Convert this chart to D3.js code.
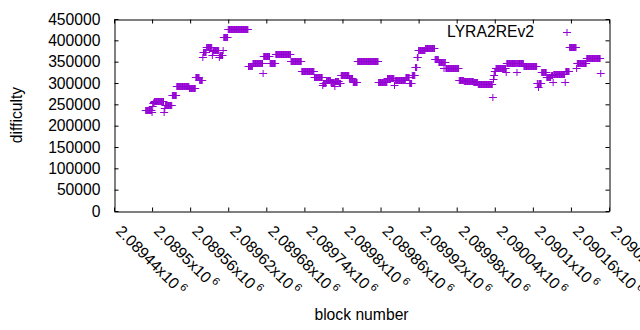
<!DOCTYPE html>
<html lang="en">
	<head>
		<meta charset="utf-8">
		<title>LYRA2REv2 difficulty</title>
		<script src="https://d3js.org/d3.v7.min.js"></script>
		<style type="text/css">
			body { margin: 0; background: #fff; }
			text { font-family: "Liberation Sans", Arial, sans-serif; font-size: 15.7px; fill: #000; }
		</style>
	</head>
	<body>
		<script type="text/javascript">
			// first block in the series, one value per block after it
			var startBlock = 2089490;

			// difficulty in thousands, one entry per block
			var difficultyK = [
				237,237,237,237,237,237,237,237,237,237,233,245,252,256,
				258,258,258,258,258,258,258,258,258,258,258,258,258,258,258,
				232,241,
				248,248,248,248,248,248,248,248,248,248,248,
				272,272,272,272,272,272,272,
				293,293,293,293,293,293,293,293,293,293,293,293,293,293,293,293,293,293,293,293,
				289,289,289,289,289,289,289,289,289,289,
				313,313,313,313,313,313,
				306,306,306,306,306,
				362,372,372,372,372,372,
				384,384,384,384,384,384,384,384,384,
				366,374,
				378,378,378,378,378,378,378,378,378,
				361,366,366,366,366,366,378,
				408,408,408,408,408,408,408,
				426,426,426,426,426,426,426,426,426,426,426,426,426,426,426,426,
				426,426,426,426,426,426,426,426,426,426,426,426,426,426,426,426,
				339,339,339,339,339,339,339,
				346,346,346,346,346,346,346,346,346,346,346,346,346,346,346,346,
				323,
				363,363,363,363,363,363,363,363,363,363,
				348,348,348,348,348,348,348,348,348,
				367,367,367,367,367,367,367,367,367,367,367,367,367,367,367,367,367,367,367,367,367,367,367,367,
				351,351,351,351,351,351,351,351,351,351,351,351,351,351,351,351,351,
				327,327,327,327,327,327,327,327,327,327,327,327,327,327,327,327,327,327,327,327,
				313,313,313,313,313,313,313,313,313,313,313,313,313,
				295,300,300,300,300,300,
				307,307,307,307,307,307,307,
				303,303,303,303,303,303,
				293,304,304,304,304,304,304,299,299,299,
				319,319,319,319,319,319,319,319,319,319,319,319,319,
				312,312,312,312,312,312,
				302,302,302,302,302,302,302,
				352,352,352,352,352,352,352,352,352,352,352,352,352,352,352,352,352,
				352,352,352,352,352,352,352,352,352,352,352,352,352,352,352,352,
				302,302,302,302,302,302,302,302,302,302,302,302,302,302,
				312,312,312,312,312,312,312,312,312,312,312,
				295,
				306,306,306,306,306,306,306,306,306,306,306,306,306,306,306,306,306,
				315,315,315,315,315,315,
				300,300,300,300,
				319,319,319,319,319,
				337,337,337,361,361,
				378,378,378,378,378,378,378,378,378,378,378,
				383,383,383,383,383,383,383,383,383,383,383,383,383,383,383,
				357,357,357,357,357,357,
				349,349,349,349,349,349,349,349,336,349,349,
				335,335,335,335,335,335,335,335,335,335,335,335,335,335,335,335,335,335,335,335,335,
				308,308,308,308,308,308,308,308,
				305,305,305,305,305,305,305,305,305,305,305,305,305,305,305,
				302,302,302,302,302,302,302,
				297,297,297,297,297,297,297,297,297,297,297,297,297,297,297,297,297,297,297,297,297,297,297,
				268,310,318,327,327,
				336,336,336,336,336,336,336,336,336,336,336,336,336,336,336,336,
				326,
				346,346,346,346,346,346,346,346,346,346,346,346,346,346,346,346,
				326,
				348,348,348,348,348,348,348,348,348,348,
				341,341,341,341,341,341,341,341,341,341,341,341,341,341,341,341,341,341,341,341,341,
				300,300,290,300,300,300,300,
				325,325,325,325,325,325,325,325,
				315,315,315,315,315,315,315,
				318,318,318,302,320,320,320,320,
				322,322,322,322,322,322,322,322,322,322,322,322,322,322,
				302,
				329,329,329,329,329,329,
				385,385,385,385,385,385,385,385,385,385,385,
				335,
				348,348,348,348,348,348,348,348,348,348,348,348,348,348,348,
				358,358,358,358,358,358,358,358,358,358,358,358,358,358,358,358,358,358,358,358,358,358,
				323
			];

			var xTicks = [2089440, 2089500, 2089560, 2089620, 2089680, 2089740, 2089800,
				2089860, 2089920, 2089980, 2090040, 2090100, 2090160, 2090220];
			var xTickLabels = ["2.08944", "2.0895", "2.08956", "2.08962", "2.08968", "2.08974", "2.0898",
				"2.08986", "2.08992", "2.08998", "2.09004", "2.0901", "2.09016", "2.09022"];
			var yTicks = [0, 50000, 100000, 150000, 200000, 250000, 300000, 350000, 400000, 450000];

			var seriesName = "LYRA2REv2";
			var color = "#9400d3";

			//Width and height
			var w = 640;
			var h = 330;
			var plotLeft = 114, plotRight = 609, plotTop = 19, plotBottom = 211;

			var mySVG = d3.select('body').append('svg').attr('width', w).attr('height', h);

			//Create scale functions
			var xScale = d3.scaleLinear()
								 .domain([xTicks[0], xTicks[xTicks.length - 1]])
								 .range([plotLeft, plotRight]);

			var yScale = d3.scaleLinear()
								 .domain([yTicks[0], yTicks[yTicks.length - 1]])
								 .range([plotBottom, plotTop]);

			// axes, ticks pointing inward on all four sides
			var axisB = d3.axisBottom(xScale).tickValues(xTicks).tickSize(-4).tickSizeOuter(0).tickFormat("");
			var axisT = d3.axisTop(xScale).tickValues(xTicks).tickSize(-4).tickSizeOuter(0).tickFormat("");
			var axisL = d3.axisLeft(yScale).tickValues(yTicks).tickSize(-4).tickSizeOuter(0).tickPadding(14).tickFormat(d3.format("d"));
			var axisR = d3.axisRight(yScale).tickValues(yTicks).tickSize(-4).tickSizeOuter(0).tickFormat("");

			mySVG.append("g").attr("transform", "translate(0," + (plotBottom + 0.5) + ")").call(axisB);
			mySVG.append("g").attr("transform", "translate(0," + (plotTop + 0.5) + ")").call(axisT);
			mySVG.append("g").attr("transform", "translate(" + (plotLeft + 0.5) + ",0)").call(axisL);
			mySVG.append("g").attr("transform", "translate(" + (plotRight + 0.5) + ",0)").call(axisR);

			mySVG.selectAll(".domain").attr("stroke", "#000");
			mySVG.selectAll(".tick line").attr("stroke", "#000");
			mySVG.selectAll(".tick text")
				.style("font-family", '"Liberation Sans", Arial, sans-serif')
				.style("font-size", "15.7px")
				.attr("fill", "#000");

			// rotated x tick labels with x10^6
			var xl = mySVG.append("g").selectAll("text")
				.data(xTicks)
				.enter()
				.append("text")
					.attr("transform", (d) => "translate(" + (xScale(d) + 1) + ",232) rotate(45)")
					.attr("text-anchor", "start");
			xl.append("tspan").text((d, i) => xTickLabels[i] + "x10");
			xl.append("tspan").attr("dx", 3).attr("dy", -6).style("font-size", "11px").text("6");

			// points drawn as + marks
			var plus = "M-4,0H4M0,-3.5V3.5";
			mySVG.append("g").selectAll("path")
				.data(difficultyK)
				.enter()
				.append("path")
					.attr("d", plus)
					.attr("transform", (d, i) => "translate(" + xScale(startBlock + i) + "," + (Math.round(yScale(d * 1000)) + 0.5) + ")")
					.attr("stroke", color)
					.attr("stroke-width", 1)
					.attr("fill", "none");

			// key
			mySVG.append("text")
				.attr("x", 534)
				.attr("y", 37)
				.attr("text-anchor", "end")
				.text(seriesName);
			mySVG.append("path")
				.attr("d", plus)
				.attr("transform", "translate(567,32.5)")
				.attr("stroke", color)
				.attr("fill", "none");

			// axis titles
			mySVG.append("text")
				.attr("x", (plotLeft + plotRight) / 2)
				.attr("y", 320)
				.attr("text-anchor", "middle")
				.text("block number");
			mySVG.append("text")
				.attr("transform", "translate(22,115) rotate(-90)")
				.attr("text-anchor", "middle")
				.text("difficulty");
		</script>
	</body>
</html>
